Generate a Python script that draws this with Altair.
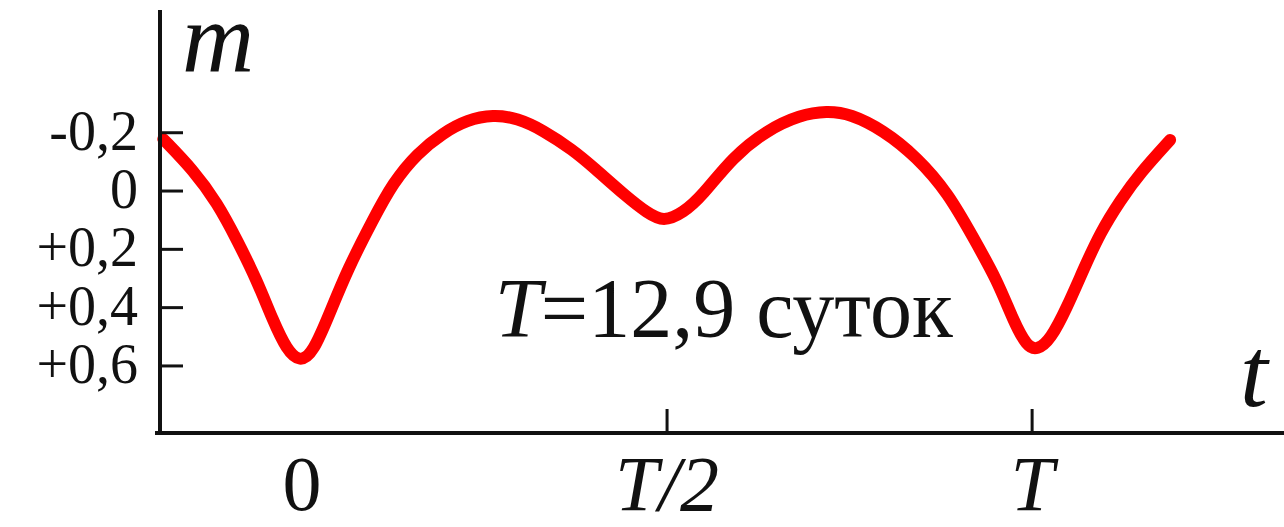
import altair as alt
import pandas as pd

# Light curve: phase (in units of the period T) and magnitude change m
phase = [-0.190, -0.149, -0.116, -0.089, -0.062, -0.040, -0.021, -0.003, 0.015,
         0.038, 0.062, 0.097, 0.125, 0.158, 0.193, 0.226, 0.262, 0.295, 0.330,
         0.371, 0.399, 0.445, 0.473, 0.495, 0.522, 0.548, 0.590, 0.637, 0.682,
         0.719, 0.751, 0.796, 0.842, 0.885, 0.919, 0.952, 0.974, 0.993, 1.007,
         1.025, 1.048, 1.070, 1.093, 1.121, 1.148, 1.189]
mag = [-0.178, -0.072, 0.041, 0.168, 0.305, 0.443, 0.545, 0.587, 0.556,
       0.419, 0.271, 0.099, -0.030, -0.130, -0.199, -0.244, -0.262, -0.250, -0.209,
       -0.141, -0.082, 0.021, 0.075, 0.106, 0.075, 0.017, -0.117, -0.209, -0.261,
       -0.275, -0.265, -0.209, -0.117, 0.007, 0.158, 0.305, 0.443, 0.535, 0.545,
       0.511, 0.398, 0.271, 0.144, 0.031, -0.062, -0.175]

# Axis ticks and labels
y_ticks = [-0.2, 0.0, 0.2, 0.4, 0.6]
y_labels = ["-0,2", "0", "+0,2", "+0,4", "+0,6"]
x_ticks = [0.5, 1.0]
x_label_pos = [0.0, 0.5, 1.0]
x_labels = ["0", "T/2", "T"]
x_label_style = ["normal", "italic", "italic"]

W, H = 1124, 423
FONT = "Liberation Serif"
RED = "#ff0000"
INK = "#111111"

xs = alt.Scale(domain=[-0.1945, 1.345], nice=False, zero=False)
ys = alt.Scale(domain=[-0.621, 0.830], nice=False, zero=False, reverse=True)

curve_df = pd.DataFrame({"phase": phase, "m": mag})
ytick_df = pd.DataFrame({"m": y_ticks, "label": y_labels})
xtick_df = pd.DataFrame({"phase": x_ticks})
xlab_df = pd.DataFrame({"phase": x_label_pos, "label": x_labels, "style": x_label_style})
base_df = pd.DataFrame({"k": [0]})

curve = alt.Chart(curve_df).mark_line(
    color=RED, strokeWidth=12, interpolate="basis", strokeCap="round", strokeJoin="round"
).encode(
    x=alt.X("phase:Q", scale=xs, axis=None),
    y=alt.Y("m:Q", scale=ys, axis=None),
)

y_axis_line = alt.Chart(base_df).mark_rule(color=INK, strokeWidth=4).encode(
    x=alt.value(0), y=alt.value(0), y2=alt.value(H + 2)
)
x_axis_line = alt.Chart(base_df).mark_rule(color=INK, strokeWidth=4).encode(
    y=alt.value(H), x=alt.value(-5), x2=alt.value(W)
)

y_tick_marks = alt.Chart(ytick_df).mark_rule(color=INK, strokeWidth=3).encode(
    y=alt.Y("m:Q", scale=ys, axis=None), x=alt.value(0), x2=alt.value(23)
)
y_tick_text = alt.Chart(ytick_df).mark_text(
    font=FONT, fontSize=56, align="right", baseline="middle", color=INK
).encode(
    y=alt.Y("m:Q", scale=ys, axis=None), x=alt.value(-22), text="label:N"
)

x_tick_marks = alt.Chart(xtick_df).mark_rule(color=INK, strokeWidth=3).encode(
    x=alt.X("phase:Q", scale=xs, axis=None), y=alt.value(H - 24), y2=alt.value(H)
)
x_text_upright = alt.Chart(xlab_df).transform_filter("datum.style == 'normal'").mark_text(
    font=FONT, fontSize=78, align="center", baseline="alphabetic", color=INK
).encode(
    x=alt.X("phase:Q", scale=xs, axis=None), y=alt.value(H + 77), text="label:N"
)
x_text_italic = alt.Chart(xlab_df).transform_filter("datum.style == 'italic'").mark_text(
    font=FONT, fontSize=78, fontStyle="italic", align="center", baseline="alphabetic", color=INK
).encode(
    x=alt.X("phase:Q", scale=xs, axis=None), y=alt.value(H + 77), text="label:N"
)

m_title = alt.Chart(base_df).mark_text(
    font=FONT, fontSize=100, fontStyle="italic", align="left", baseline="alphabetic",
    color=INK, text="m"
).encode(x=alt.value(22), y=alt.value(61))
t_title = alt.Chart(base_df).mark_text(
    font=FONT, fontSize=100, fontStyle="italic", align="left", baseline="alphabetic",
    color=INK, text="t"
).encode(x=alt.value(1080), y=alt.value(396))

# Period annotation
period_df = pd.DataFrame({"phase": [0.264], "m": [0.501]})
period_T = alt.Chart(period_df).mark_text(
    font=FONT, fontSize=84, fontStyle="italic", align="left", baseline="alphabetic",
    color=INK, text="T"
).encode(x=alt.X("phase:Q", scale=xs, axis=None), y=alt.Y("m:Q", scale=ys, axis=None))
period_rest = alt.Chart(period_df).mark_text(
    font=FONT, fontSize=84, align="left", baseline="alphabetic", color=INK,
    text="=12,9 суток", dx=46
).encode(x=alt.X("phase:Q", scale=xs, axis=None), y=alt.Y("m:Q", scale=ys, axis=None))

chart = alt.layer(
    curve, y_axis_line, x_axis_line, y_tick_marks, y_tick_text, x_tick_marks,
    x_text_upright, x_text_italic, m_title, t_title, period_T, period_rest
).properties(
    width=W, height=H,
    background="white",
    autosize=alt.AutoSizeParams(type="none"),
    padding={"left": 160, "top": 10, "right": 0, "bottom": 94},
).configure_view(stroke="transparent", strokeWidth=0)

chart.save("out.html", embed_options={"renderer": "svg", "actions": False})
